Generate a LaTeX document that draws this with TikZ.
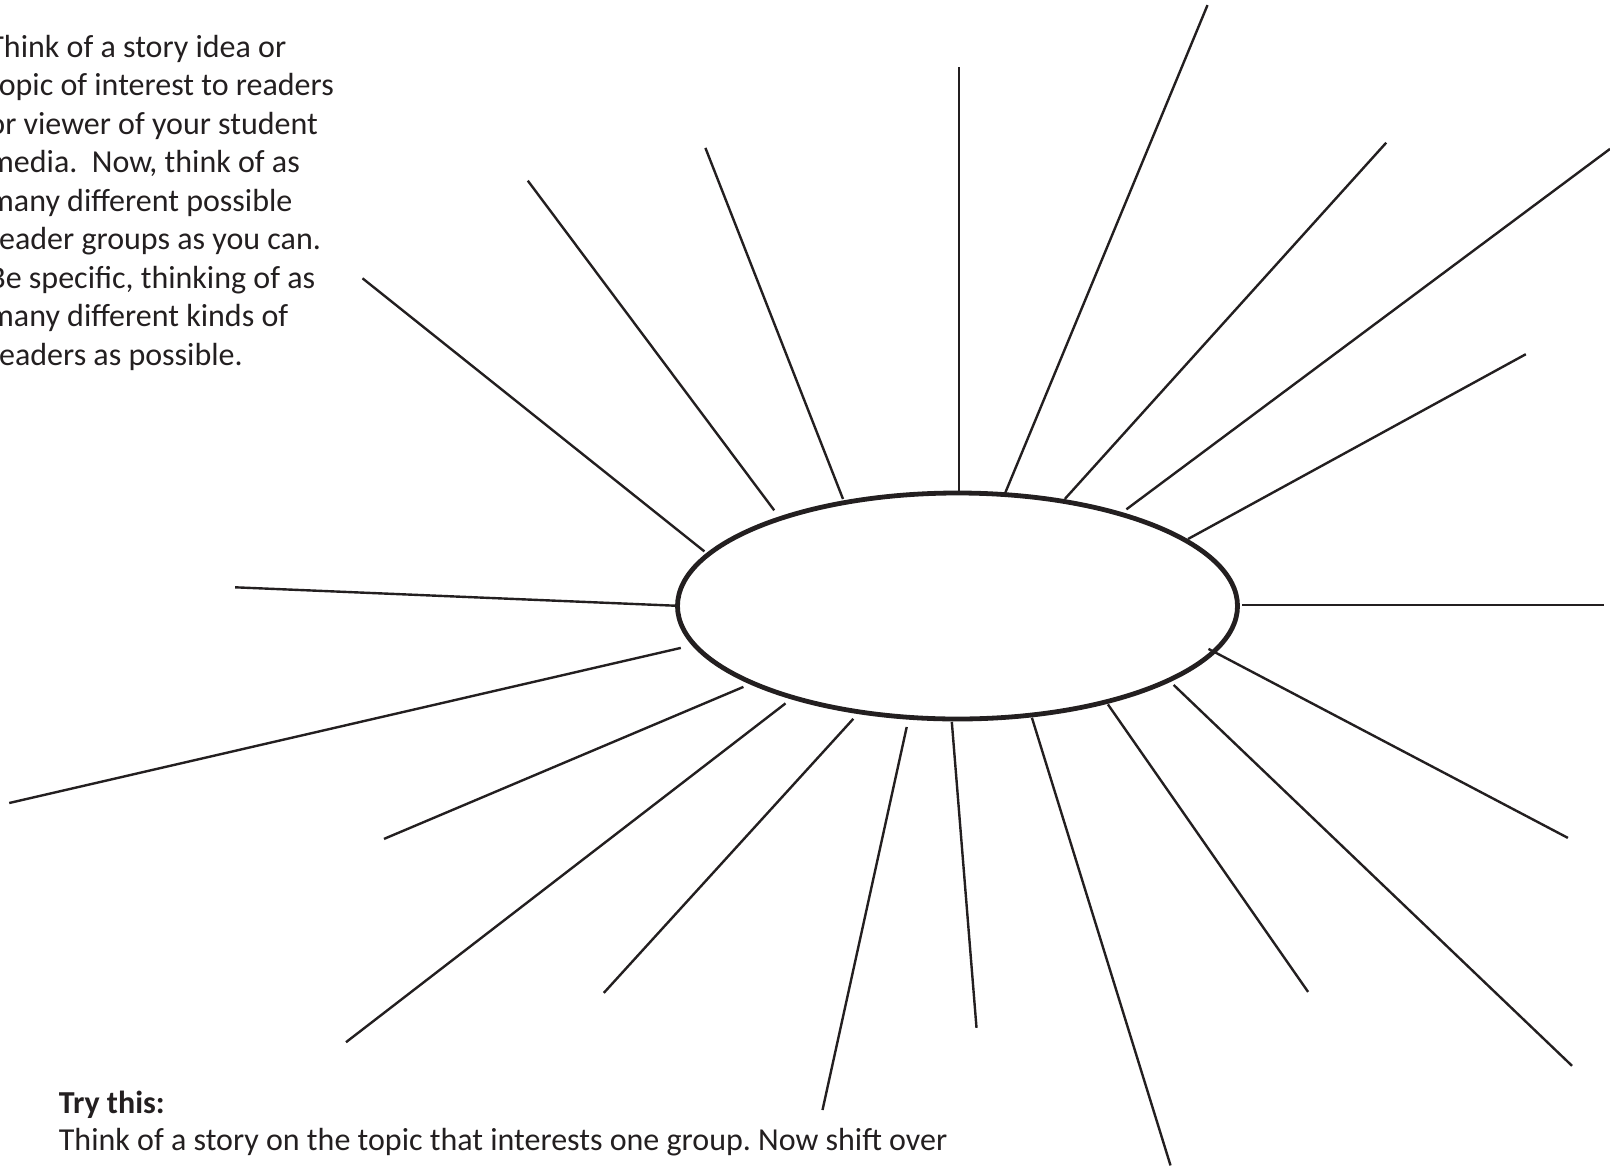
\documentclass[tikz,border=0pt]{standalone}
\usepackage{fontspec}
\setmainfont{Carlito}
\usetikzlibrary{shapes.geometric}
\definecolor{ink}{RGB}{35,31,32}
\frenchspacing

\begin{document}
\begin{tikzpicture}[
  x=0.5pt, y=-0.5pt,
  every node/.style={font=\fontsize{16}{19.25}\selectfont, text=ink},
  topic/.style={draw=ink, ellipse, line width=2.4pt, minimum width=280pt, minimum height=113pt, inner sep=0pt},
  spoke/.style={draw=ink, line width=1.2pt},
  note/.style={align=left, inner sep=0pt, anchor=base west},
  tryit/.style={note, font=\fontsize{16}{19.25}\selectfont\bfseries}
]
  \clip (0,0) rectangle (1610,1167);
  % centre oval
  \node[topic] (topic) at (957.5,606) {};
  % spokes: number / inner end / outer end
  \foreach \i/\ax/\ay/\bx/\by in {
      1/704.4/551.4/362.5/278.3, 2/774.2/510.3/527.8/180.7,
      3/843/499/705.4/147.9, 4/959/490.8/959/66.7,
      5/1005.2/492.9/1207.5/5.1, 6/1064.8/499/1386.2/142.7,
      7/1126.4/509.3/1610/148.9, 8/1188/539/1525.8/354.2,
      9/1242.4/604.8/1603.9/604.8, 10/1208.5/648.9/1567.9/837.9,
      11/1173.6/684.9/1572/1065.8, 12/1107.9/704.4/1308.1/991.9,
      13/1031.9/717.7/1170.5/1165.4, 14/951.8/721.8/976.5/1027.8,
      15/906.7/727/822.5/1110, 16/853.3/718.8/603.8/992.9,
      17/785.5/703.4/346/1042.2, 18/743.4/686.9/384/838.9,
      19/680.8/647.9/9.2/803, 20/677.7/605.8/235.1/587.3} {
    \coordinate (in\i) at (\ax,\ay);
    \coordinate (out\i) at (\bx,\by);
    \draw[spoke] (in\i) -- (out\i);
  }
  % instructions (anchored on the last line)
  \node[note] (intro) at (-12,365) {Think of a story idea or\\topic of interest to readers\\or viewer of your student\\media.\ \ Now, think of as\\many different possible\\reader groups as you can.\\Be specific, thinking of as\\many different kinds of\\readers as possible.};
  \node[tryit] (try) at (58.5,1113) {Try this:};
  \node[note] (shift) at (58.5,1150) {Think of a story on the topic that interests one group. Now shift over};
\end{tikzpicture}
\end{document}
